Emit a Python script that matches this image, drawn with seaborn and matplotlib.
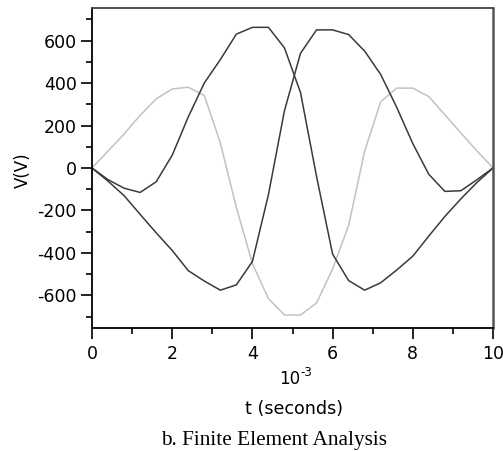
import numpy as np
import pandas as pd
import seaborn as sns
import matplotlib
matplotlib.use("Agg")
import matplotlib.pyplot as plt
from matplotlib.ticker import MultipleLocator

# time in units of 1e-3 s
t_ms = [0.0, 0.4, 0.8, 1.2, 1.6, 2.0, 2.4, 2.8, 3.2, 3.6, 4.0, 4.4, 4.8,
        5.2, 5.6, 6.0, 6.4, 6.8, 7.2, 7.6, 8.0, 8.4, 8.8, 9.2, 9.6, 10.0]

# phase voltages (V)
v_a = [0, -55, -95, -115, -65, 60, 240, 400, 510, 630, 662, 662, 565,
       355, -40, -405, -530, -575, -540, -480, -415, -320, -228, -145, -68, 0]
v_b = [0, -62, -130, -218, -305, -388, -483, -532, -575, -550, -440, -125, 270,
       540, 650, 650, 628, 550, 440, 285, 115, -30, -110, -107, -55, 0]
v_c = [0, 80, 160, 248, 325, 372, 380, 342, 118, -185, -450, -615, -692,
       -692, -635, -475, -270, 80, 312, 376, 376, 336, 250, 165, 80, 0]

x_ticks = [0, 2, 4, 6, 8, 10]
y_ticks = [-600, -400, -200, 0, 200, 400, 600]

df = pd.concat([
    pd.DataFrame({"t": t_ms, "V": v_a, "phase": "a"}),
    pd.DataFrame({"t": t_ms, "V": v_b, "phase": "b"}),
    pd.DataFrame({"t": t_ms, "V": v_c, "phase": "c"}),
])
colors = {"a": "#3a3a3a", "b": "#3a3a3a", "c": "#c2c2c2"}

sns.set_style("ticks")
plt.rcParams["font.family"] = ["DejaVu Sans"]
plt.rcParams["axes.unicode_minus"] = False
plt.rcParams["text.color"] = "black"
plt.rcParams["xtick.color"] = "black"
plt.rcParams["ytick.color"] = "black"

fig = plt.figure(figsize=(5.03, 4.51), dpi=100)
ax = fig.add_axes([92 / 503, 1 - 328 / 451, 401 / 503, 320 / 451])

sns.lineplot(data=df, x="t", y="V", hue="phase", palette=colors,
             hue_order=["c", "a", "b"], linewidth=1.1, legend=False, ax=ax)

ax.set_xlim(0, 10)
ax.set_ylim(-753, 753)
ax.set_xticks(x_ticks)
ax.set_yticks(y_ticks)
ax.xaxis.set_minor_locator(MultipleLocator(1))
ax.yaxis.set_minor_locator(MultipleLocator(100))
ax.tick_params(which="major", length=8, width=1.2, labelsize=12.5, color="black", labelcolor="black")
ax.tick_params(which="minor", length=4.5, width=1.2, color="black")
ax.tick_params(axis="x", pad=4.5)
ax.tick_params(axis="y", pad=3)
ax.set_xlabel("")
ax.set_ylabel("")

for side in ["left", "bottom"]:
    ax.spines[side].set_color("black")
    ax.spines[side].set_linewidth(1.3)
ax.spines["top"].set_color("#444444")
ax.spines["top"].set_linewidth(1.3)
ax.spines["right"].set_color("#555555")
ax.spines["right"].set_linewidth(1.8)

fig.text(23 / 503, 1 - 170 / 451, "V(V)", rotation=90, ha="center", va="center", fontsize=12)
# x-axis multiplier: "10" with a raised "-3"
fig.text(300 / 503, 1 - 379 / 451, "10", ha="right", va="center", fontsize=12)
fig.text(300 / 503, 1 - 373 / 451, "-3", ha="left", va="center", fontsize=8.5)
fig.text(294 / 503, 1 - 409 / 451, "t (seconds)", ha="center", va="center", fontsize=12.6)
fig.text(274 / 503, 1 - 440 / 451, "b. Finite Element Analysis", ha="center", va="center",
         fontsize=15.3, family="Liberation Serif")

fig.savefig("out.png", dpi=100)
